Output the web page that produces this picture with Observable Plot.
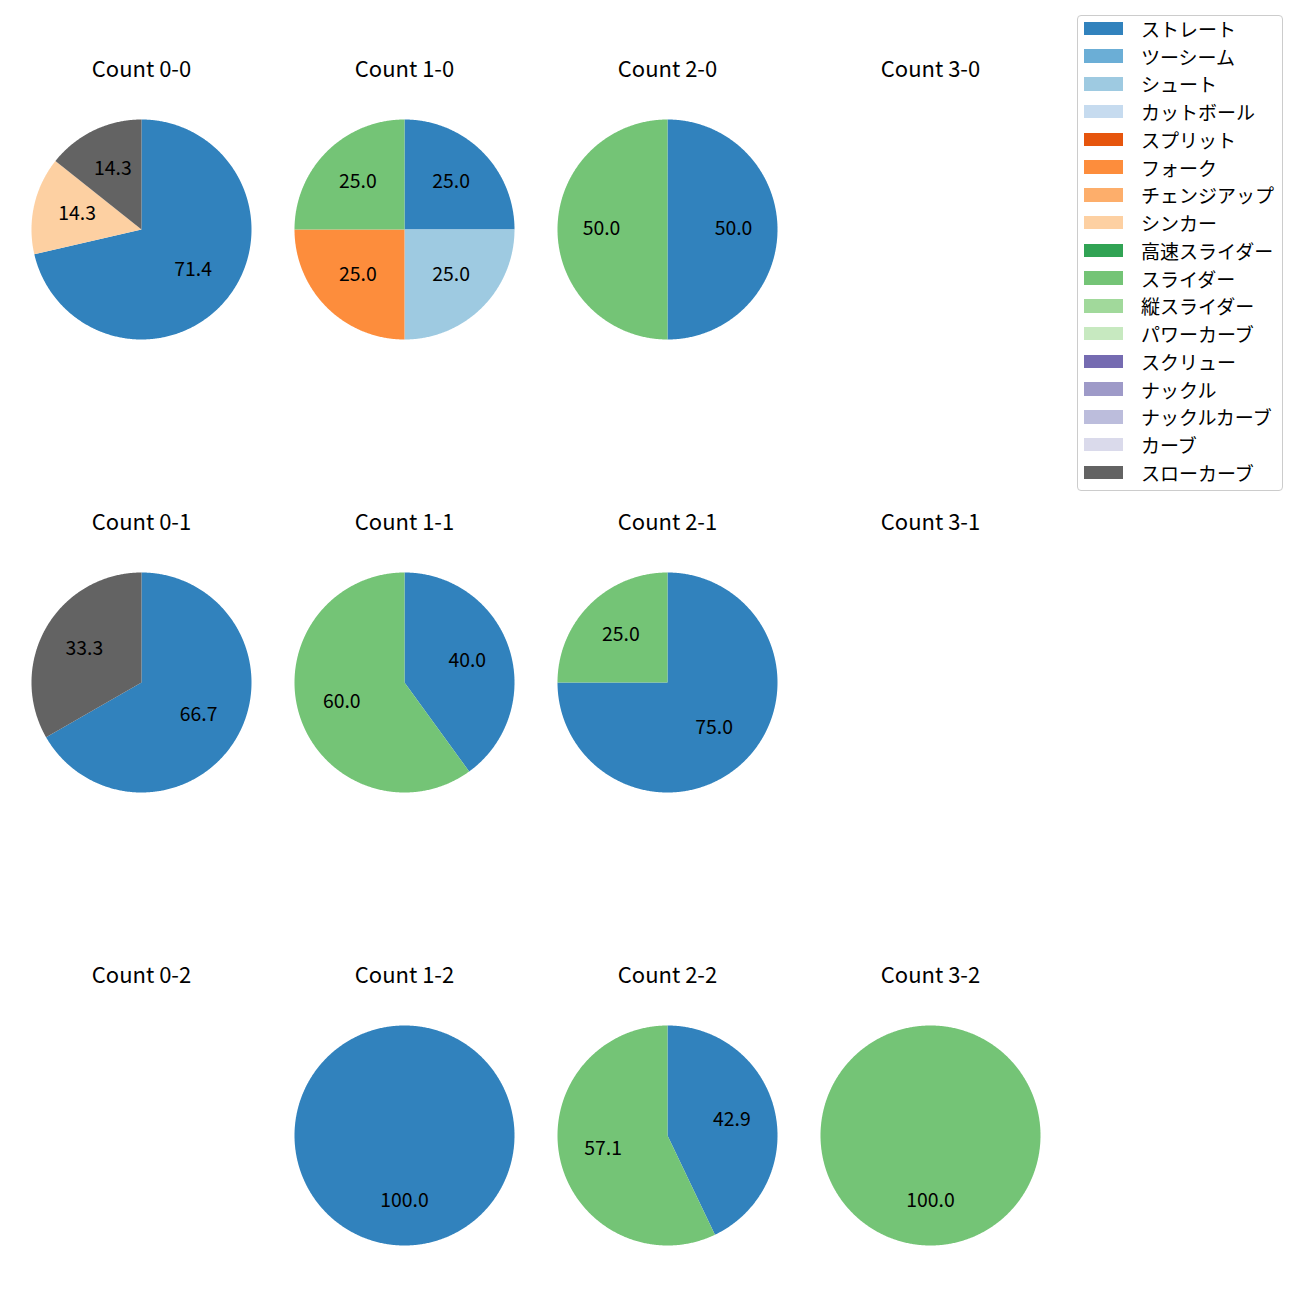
<!DOCTYPE html>
<html><head><meta charset="utf-8">
<script src="https://cdn.jsdelivr.net/npm/d3@7"></script>
<script src="https://cdn.jsdelivr.net/npm/@observablehq/plot@0.6"></script>
<style>
body{margin:0;background:#fff;font-family:"Noto Sans CJK JP",sans-serif;}
#wrap{display:flex;align-items:flex-start;width:1300px;height:1300px;}
#legend{box-sizing:border-box;margin-left:7px;margin-top:15px;width:206px;height:476px;border:1px solid #cccccc;border-radius:4px;padding:0 0 0 6px;}
#rows{margin-top:-1.5px;}
.row{height:27.75px;display:flex;align-items:center;}
.sw{width:39px;height:13.5px;flex:none;}
.lb{margin-left:18px;font-size:19px;color:#000;white-space:nowrap;line-height:1;}
</style></head><body>
<div id="wrap"><div id="chart"></div><div id="legend"><div id="rows"></div></div></div>
<script>
// pitch types in legend order with their colours
const pitchTypes = ["ストレート","ツーシーム","シュート","カットボール","スプリット","フォーク","チェンジアップ","シンカー","高速スライダー","スライダー","縦スライダー","パワーカーブ","スクリュー","ナックル","ナックルカーブ","カーブ","スローカーブ"];
const pitchColors = ["#3182bd","#6baed6","#9ecae1","#c6dbef","#e6550d","#fd8d3c","#fdae6b","#fdd0a2","#31a354","#74c476","#a1d99b","#c7e9c0","#756bb1","#9e9ac8","#bcbddc","#dadaeb","#636363"];

// counts (balls-strikes), in panel order
const balls = ["0","1","2","3"];
const strikes = ["0","1","2"];
const countLabels = ["0-0","1-0","2-0","3-0","0-1","1-1","2-1","3-1","0-2","1-2","2-2","3-2"];

// share (%) of each pitch type per count, aligned with countLabels
const shareStraight = [71.4, 25.0, 50.0, 0, 66.7, 40.0, 75.0, 0, 0, 100.0, 42.9, 0];
const shareShoot    = [0, 25.0, 0, 0, 0, 0, 0, 0, 0, 0, 0, 0];
const shareFork     = [0, 25.0, 0, 0, 0, 0, 0, 0, 0, 0, 0, 0];
const shareSinker   = [14.3, 0, 0, 0, 0, 0, 0, 0, 0, 0, 0, 0];
const shareSlider   = [0, 25.0, 50.0, 0, 0, 60.0, 25.0, 0, 0, 0, 57.1, 100.0];
const shareSlowCurve= [14.3, 0, 0, 0, 33.3, 0, 0, 0, 0, 0, 0, 0];

const seriesByPitch = {
  "ストレート": shareStraight,
  "シュート": shareShoot,
  "フォーク": shareFork,
  "シンカー": shareSinker,
  "スライダー": shareSlider,
  "スローカーブ": shareSlowCurve
};

const slices = [], labels = [], titles = [];
countLabels.forEach((c, i) => {
  const [b, s] = c.split("-");
  titles.push({b, s, title: "Count " + c});
  const parts = pitchTypes
    .filter(p => seriesByPitch[p] && seriesByPitch[p][i] > 0)
    .map(p => ({p, v: seriesByPitch[p][i]}));
  const total = d3.sum(parts, d => d.v);
  let a0 = 0;
  parts.forEach(d => {
    const a1 = a0 + d.v / total * 2 * Math.PI;
    const key = c + "|" + d.p;
    if (parts.length > 1) slices.push({b, s, key, pitch: d.p, x: 0, y: 0});
    const n = Math.max(2, Math.ceil((a1 - a0) / (Math.PI / 360)));
    for (let k = 0; k <= n; k++) {
      const a = a0 + (a1 - a0) * k / n;
      slices.push({b, s, key, pitch: d.p, x: Math.sin(a), y: Math.cos(a)});
    }
    const am = (a0 + a1) / 2;
    labels.push({b, s, x: 0.6 * Math.sin(am), y: 0.6 * Math.cos(am), text: d.v.toFixed(1)});
    a0 = a1;
  });
});

const unit = 110; // pixels per pie radius
const plot = Plot.plot({
  width: 1070,
  height: 1300,
  marginLeft: 9.5, marginRight: 8.5, marginTop: 69, marginBottom: 5,
  fx: {domain: balls, padding: 0, round: false, axis: null},
  fy: {domain: strikes, paddingInner: 133 / 453, paddingOuter: 0, round: false, axis: null},
  x: {domain: [-131.5 / unit, 131.5 / unit], axis: null},
  y: {domain: [-160 / unit, 160 / unit], axis: null},
  color: {domain: pitchTypes, range: pitchColors},
  style: {fontFamily: "'Noto Sans CJK JP', sans-serif", background: "white", color: "black", overflow: "visible"},
  marks: [
    Plot.line(slices, {fx: "b", fy: "s", x: "x", y: "y", z: "key", fill: "pitch"}),
    Plot.text(labels, {fx: "b", fy: "s", x: "x", y: "y", text: "text", fontSize: 19.4, fill: "black", dy: -1}),
    Plot.text(titles, {fx: "b", fy: "s", frameAnchor: "top", lineAnchor: "middle", text: "title", fontSize: 22, fill: "black"})
  ]
});
document.getElementById("chart").appendChild(plot);

const rows = document.getElementById("rows");
pitchTypes.forEach((p, i) => {
  const row = document.createElement("div");
  row.className = "row";
  const sw = document.createElement("div");
  sw.className = "sw";
  sw.style.background = pitchColors[i];
  const lb = document.createElement("span");
  lb.className = "lb";
  lb.textContent = p;
  row.appendChild(sw); row.appendChild(lb);
  rows.appendChild(row);
});
</script>
</body></html>
